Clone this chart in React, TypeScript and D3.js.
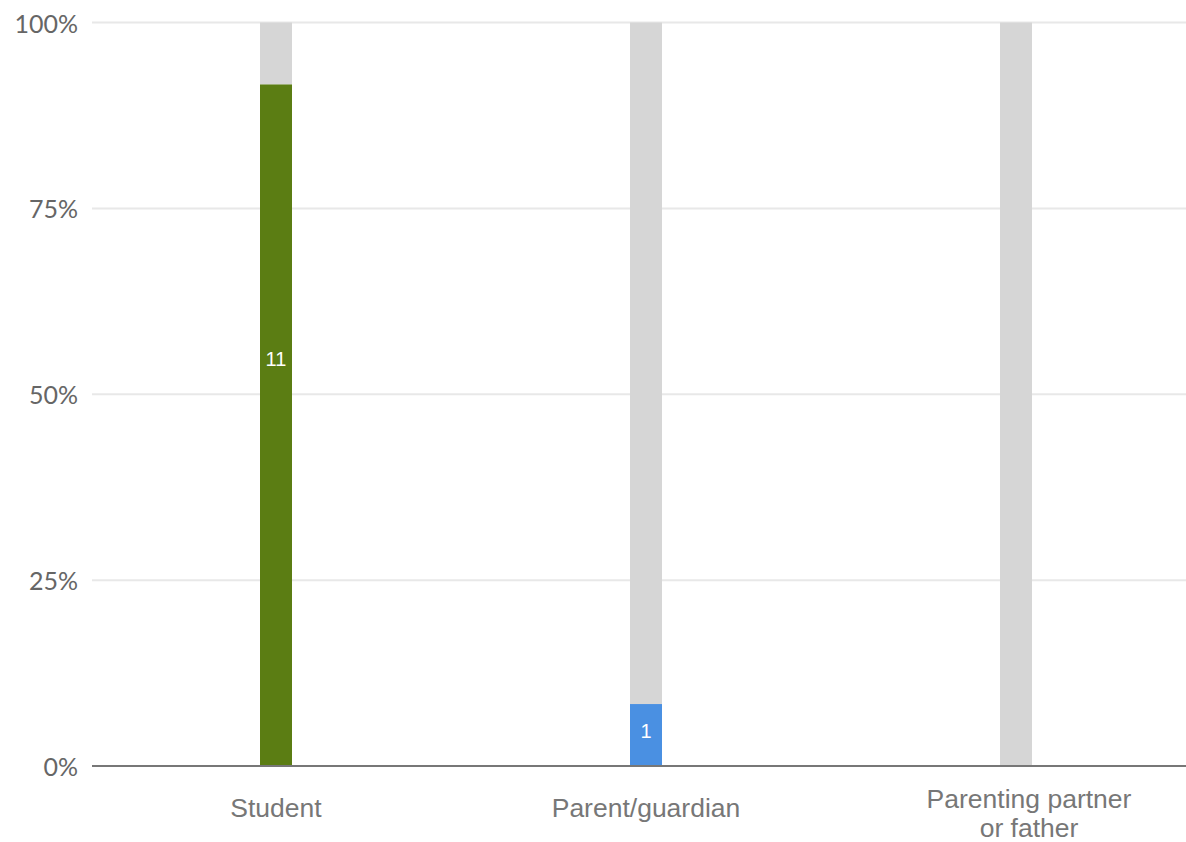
import React from "react";
import * as d3 from "d3";

// Respondent roles and how many of the 12 respondents picked each one
const categories = ["Student", "Parent/guardian", "Parenting partner or father"];
const categoryLines = [["Student"], ["Parent/guardian"], ["Parenting partner", "or father"]];
const counts = [11, 1, 0];
const totalRespondents = 12;
const barColors = ["#5b7d13", "#4a90e2", "#4a90e2"];
const yTicks = [0, 0.25, 0.5, 0.75, 1];

const WIDTH = 1186;
const HEIGHT = 842;
const restColor = "#d6d6d6";

export default function App() {
  const x = d3.scalePoint<string>().domain(categories).range([91, 1201]).padding(0.5);
  const y = d3.scaleLinear().domain([0, 1]).range([766, 22.5]);
  const barWidth = 32;
  const fmt = d3.format(".0%");

  return (
    <div style={{ position: "absolute", left: 0, top: 0 }}>
      <svg width={WIDTH} height={HEIGHT} style={{ display: "block", background: "#fff" }}>
        {/* horizontal gridlines */}
        {yTicks.map((t) => (
          <line key={`g${t}`} x1={92} x2={WIDTH} y1={y(t)} y2={y(t)} stroke="#e8e8e8" strokeWidth={2} />
        ))}
        {/* y tick labels */}
        {yTicks.map((t) => (
          <text
            key={`t${t}`}
            x={78}
            y={y(t)}
            textAnchor="end"
            dominantBaseline="central"
            fontFamily="Lato, sans-serif"
            fontSize={25}
            fill="#666666"
          >
            {fmt(t)}
          </text>
        ))}
        {/* stacked bars: answered share + remainder */}
        {categories.map((c, i) => {
          const share = counts[i] / totalRespondents;
          const cx = x(c) as number;
          return (
            <g key={c}>
              <rect x={cx - barWidth / 2} y={y(1)} width={barWidth} height={y(share) - y(1)} fill={restColor} />
              {counts[i] > 0 && (
                <rect x={cx - barWidth / 2} y={y(share)} width={barWidth} height={y(0) - y(share)} fill={barColors[i]} />
              )}
              {counts[i] > 0 && (
                <text
                  x={cx}
                  y={y(share * 0.6) + 2}
                  textAnchor="middle"
                  dominantBaseline="central"
                  fontFamily="'Liberation Sans', Arial, sans-serif"
                  fontSize={20}
                  fill="#ffffff"
                >
                  {counts[i]}
                </text>
              )}
            </g>
          );
        })}
        {/* baseline */}
        <line x1={92} x2={WIDTH} y1={y(0)} y2={y(0)} stroke="#777777" strokeWidth={2} />
        {/* category labels */}
        {categories.map((c, i) => {
          const lines = categoryLines[i];
          const cx = x(c) as number;
          const first = lines.length > 1 ? 808 : 817;
          return (
            <text
              key={`l${c}`}
              x={cx}
              textAnchor="middle"
              fontFamily="'Liberation Sans', Arial, sans-serif"
              fontSize={26.5}
              fill="#777777"
            >
              {lines.map((ln, j) => (
                <tspan key={j} x={lines.length > 1 ? cx + 13 : cx} y={first + j * 29}>
                  {ln}
                </tspan>
              ))}
            </text>
          );
        })}
      </svg>
    </div>
  );
}
